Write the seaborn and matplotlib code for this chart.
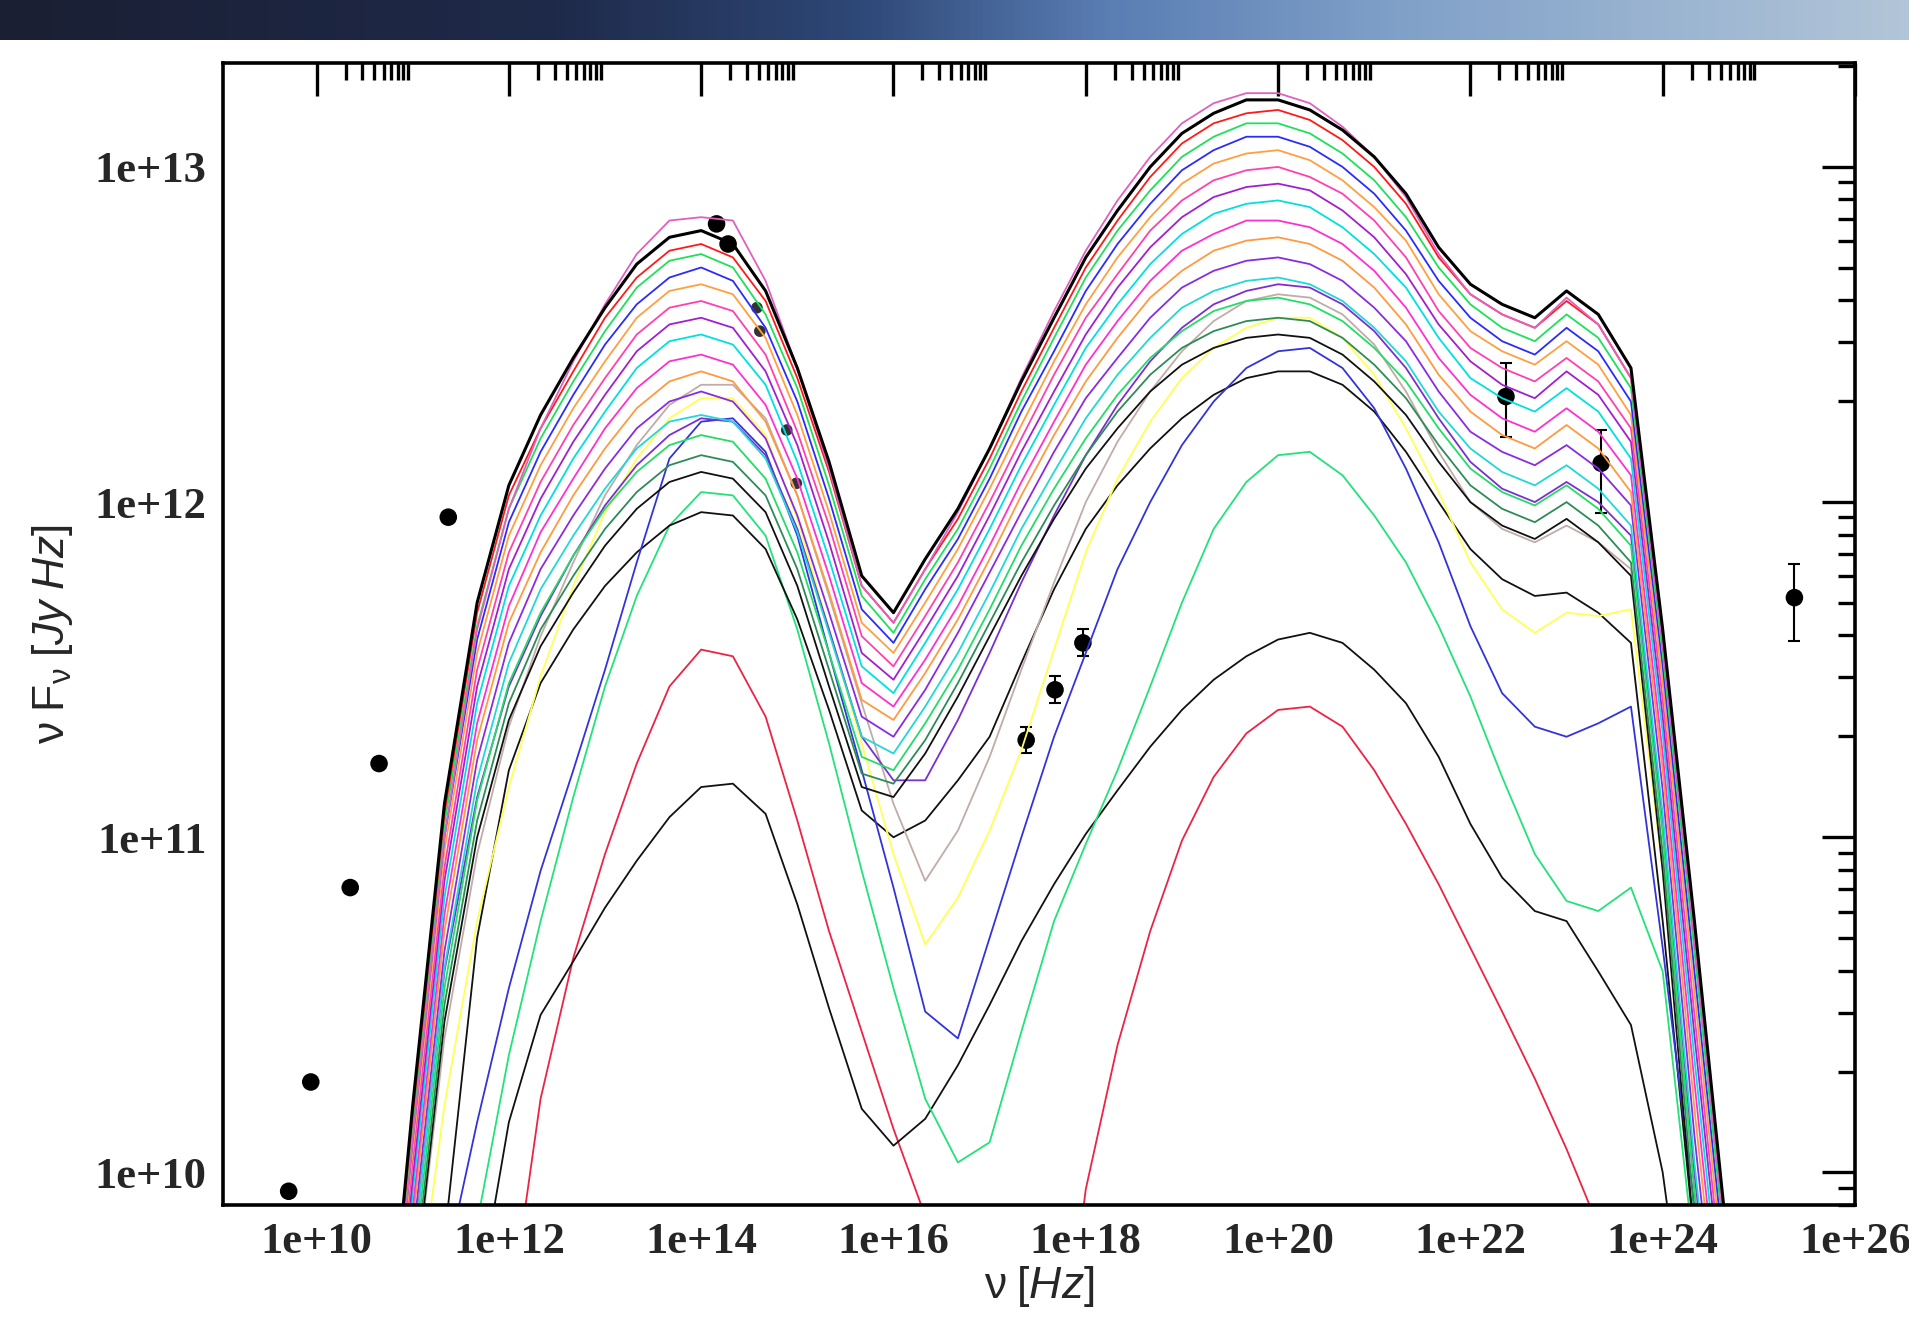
import numpy as np
import pandas as pd
import matplotlib
matplotlib.use("Agg")
import matplotlib.pyplot as plt
import seaborn as sns
from matplotlib.colors import LinearSegmentedColormap
from matplotlib.ticker import FixedLocator, NullFormatter

sns.set_theme(style="white")
plt.rcParams["font.family"] = ["Liberation Serif", "DejaVu Serif"]
plt.rcParams["mathtext.fontset"] = "custom"
plt.rcParams["mathtext.rm"] = "Liberation Sans"
plt.rcParams["mathtext.it"] = "Liberation Sans:italic"

# ---------------------------------------------------------------------------
# DATA  (log10 nu [Hz] grid, log10 nuFnu [Jy Hz] per model curve)
# ---------------------------------------------------------------------------
log_nu = [10.67, 11.0, 11.33, 11.67, 12.0, 12.33, 12.67, 13.0, 13.33, 13.67,
          14.0, 14.33, 14.67, 15.0, 15.33, 15.67, 16.0, 16.33, 16.67, 17.0,
          17.33, 17.67, 18.0, 18.33, 18.67, 19.0, 19.33, 19.67, 20.0, 20.33,
          20.67, 21.0, 21.33, 21.67, 22.0, 22.33, 22.67, 23.0, 23.33, 23.67,
          24.0, 24.33, 24.67]

red_low = [7.5, 7.9, 8.3, 8.75, 9.55, 10.22, 10.64, 10.95, 11.22, 11.45, 11.56, 11.54, 11.36, 11.05, 10.72,
           10.42, 10.13, 9.87, 9.5, 9.0, 8.8, 9.2, 9.95, 10.38, 10.72, 10.99, 11.18, 11.31, 11.38, 11.39,
           11.33, 11.20, 11.04, 10.86, 10.67, 10.48, 10.28, 10.07, 9.84, 9.6, 9.3, 9.0, 8.7]
black_low = [7.5, 7.9, 8.3, 9.6, 10.15, 10.47, 10.63, 10.79, 10.93, 11.06, 11.15, 11.16, 11.07, 10.80, 10.49,
             10.19, 10.08, 10.16, 10.32, 10.50, 10.69, 10.86, 11.01, 11.14, 11.27, 11.38, 11.47, 11.54, 11.59, 11.61,
             11.58, 11.50, 11.40, 11.24, 11.04, 10.88, 10.78, 10.75, 10.60, 10.44, 10.00, 9.30, 8.80]
green_low = [7.8, 8.3, 8.9, 9.85, 10.35, 10.75, 11.12, 11.45, 11.72, 11.93, 12.03, 12.02, 11.90, 11.62, 11.28,
             10.90, 10.55, 10.22, 10.03, 10.09, 10.42, 10.75, 10.98, 11.20, 11.45, 11.70, 11.92, 12.06, 12.14, 12.15,
             12.08, 11.96, 11.82, 11.63, 11.42, 11.18, 10.95, 10.81, 10.78, 10.85, 10.60, 9.75, 9.0]
black_mid = [8.0, 8.9, 9.8, 10.7, 11.2, 11.46, 11.62, 11.75, 11.85, 11.93, 11.97, 11.96, 11.86, 11.65, 11.38,
             11.08, 11.00, 11.05, 11.17, 11.30, 11.52, 11.74, 11.92, 12.05, 12.16, 12.25, 12.32, 12.37, 12.39, 12.39,
             12.35, 12.27, 12.15, 12.00, 11.86, 11.77, 11.72, 11.73, 11.67, 11.58, 10.75, 9.8, 9.0]
blue_deep = [7.5, 8.3, 9.7, 10.15, 10.55, 10.9, 11.2, 11.5, 11.82, 12.13, 12.24, 12.25, 12.15, 11.90, 11.55,
             11.20, 10.85, 10.48, 10.40, 10.70, 11.00, 11.30, 11.55, 11.80, 12.00, 12.17, 12.30, 12.40, 12.45, 12.46,
             12.40, 12.28, 12.10, 11.88, 11.63, 11.43, 11.33, 11.30, 11.34, 11.39, 10.67, 9.90, 9.2]
yellow_deep = [7.8, 9.5, 10.2, 10.75, 11.15, 11.48, 11.75, 11.97, 12.13, 12.25, 12.31, 12.31, 12.20, 11.95, 11.62,
               11.28, 10.95, 10.68, 10.82, 11.02, 11.26, 11.56, 11.85, 12.07, 12.24, 12.37, 12.46, 12.52, 12.55, 12.55,
               12.49, 12.38, 12.22, 12.03, 11.82, 11.68, 11.61, 11.67, 11.66, 11.68, 10.90, 10.0, 9.2]
tan_deep = [7.9, 9.6, 10.4, 10.95, 11.33, 11.60, 11.82, 12.02, 12.17, 12.29, 12.35, 12.35, 12.25, 12.02, 11.72,
            11.40, 11.10, 10.87, 11.02, 11.24, 11.50, 11.76, 12.00, 12.18, 12.33, 12.45, 12.54, 12.60, 12.62, 12.61,
            12.56, 12.47, 12.33, 12.15, 12.00, 11.92, 11.88, 11.93, 11.88, 11.80, 10.95, 9.95, 9.1]
purple_flat = [8.1, 9.75, 10.6, 11.12, 11.45, 11.66, 11.84, 11.99, 12.11, 12.20, 12.25, 12.24, 12.14, 11.92, 11.62,
               11.30, 11.17, 11.17, 11.35, 11.55, 11.76, 11.96, 12.14, 12.29, 12.42, 12.52, 12.59, 12.63, 12.65, 12.64,
               12.59, 12.51, 12.40, 12.25, 12.12, 12.04, 12.00, 12.06, 12.00, 11.90, 11.05, 10.0, 9.1]

bundle_bottom = [8.70, 9.60, 10.45, 11.00, 11.35, 11.57, 11.73, 11.87, 11.98, 12.06, 12.09, 12.07, 11.97, 11.75, 11.45,
                 11.15, 11.12, 11.25, 11.42, 11.60, 11.78, 11.95, 12.10, 12.22, 12.33, 12.41, 12.46, 12.49, 12.50, 12.49,
                 12.44, 12.36, 12.26, 12.12, 12.00, 11.93, 11.89, 11.95, 11.88, 11.78, 10.90, 9.80, 8.90]
bundle_93 = [8.74, 9.64, 10.50, 11.05, 11.40, 11.62, 11.78, 11.92, 12.03, 12.11, 12.14, 12.12, 12.02, 11.80, 11.50,
             11.19, 11.16, 11.29, 11.46, 11.64, 11.82, 11.99, 12.14, 12.27, 12.38, 12.46, 12.51, 12.54, 12.55, 12.54,
             12.49, 12.41, 12.31, 12.17, 12.05, 11.98, 11.94, 12.00, 11.93, 11.82, 10.95, 9.87, 8.96]
bundle_85 = [8.78, 9.69, 10.55, 11.11, 11.46, 11.67, 11.84, 11.98, 12.09, 12.17, 12.20, 12.18, 12.07, 11.85, 11.55,
             11.24, 11.20, 11.34, 11.50, 11.68, 11.87, 12.04, 12.19, 12.32, 12.43, 12.51, 12.57, 12.60, 12.61, 12.59,
             12.54, 12.46, 12.36, 12.22, 12.10, 12.03, 11.99, 12.05, 11.98, 11.87, 11.01, 9.94, 9.04]
bundle_76 = [8.82, 9.74, 10.61, 11.17, 11.52, 11.74, 11.90, 12.04, 12.16, 12.24, 12.26, 12.24, 12.13, 11.91, 11.61,
             11.30, 11.25, 11.39, 11.55, 11.73, 11.92, 12.09, 12.25, 12.38, 12.49, 12.58, 12.63, 12.66, 12.67, 12.65,
             12.60, 12.52, 12.42, 12.27, 12.16, 12.09, 12.05, 12.11, 12.04, 11.93, 11.07, 10.03, 9.12]
bundle_67 = [8.87, 9.80, 10.66, 11.23, 11.58, 11.80, 11.96, 12.10, 12.22, 12.30, 12.33, 12.30, 12.19, 11.96, 11.67,
             11.36, 11.30, 11.44, 11.61, 11.79, 11.97, 12.15, 12.31, 12.43, 12.55, 12.64, 12.69, 12.72, 12.73, 12.71,
             12.66, 12.58, 12.48, 12.33, 12.21, 12.15, 12.11, 12.17, 12.10, 11.99, 11.14, 10.11, 9.20]
bundle_59 = [8.91, 9.85, 10.72, 11.29, 11.64, 11.85, 12.02, 12.16, 12.28, 12.36, 12.39, 12.36, 12.24, 12.02, 11.73,
             11.41, 11.35, 11.49, 11.65, 11.83, 12.02, 12.20, 12.36, 12.49, 12.61, 12.69, 12.75, 12.78, 12.79, 12.77,
             12.72, 12.64, 12.53, 12.38, 12.27, 12.20, 12.16, 12.23, 12.16, 12.03, 11.20, 10.19, 9.27]
bundle_51 = [8.95, 9.89, 10.77, 11.34, 11.69, 11.91, 12.07, 12.22, 12.34, 12.42, 12.44, 12.41, 12.29, 12.07, 11.78,
             11.46, 11.39, 11.53, 11.69, 11.87, 12.06, 12.24, 12.41, 12.54, 12.66, 12.75, 12.80, 12.84, 12.84, 12.82,
             12.77, 12.69, 12.58, 12.43, 12.32, 12.25, 12.21, 12.28, 12.21, 12.08, 11.25, 10.27, 9.34]
bundle_43 = [8.99, 9.94, 10.82, 11.40, 11.75, 11.96, 12.13, 12.27, 12.40, 12.48, 12.50, 12.47, 12.35, 12.12, 11.83,
             11.51, 11.43, 11.58, 11.74, 11.92, 12.11, 12.29, 12.46, 12.59, 12.71, 12.80, 12.86, 12.89, 12.90, 12.88,
             12.82, 12.74, 12.64, 12.49, 12.37, 12.31, 12.27, 12.34, 12.27, 12.13, 11.31, 10.34, 9.41]
bundle_36 = [9.02, 9.98, 10.87, 11.45, 11.80, 12.01, 12.18, 12.32, 12.45, 12.53, 12.55, 12.52, 12.39, 12.17, 11.88,
             11.55, 11.47, 11.62, 11.78, 11.96, 12.15, 12.33, 12.50, 12.64, 12.76, 12.85, 12.91, 12.94, 12.95, 12.93,
             12.87, 12.79, 12.68, 12.53, 12.42, 12.35, 12.31, 12.39, 12.32, 12.18, 11.36, 10.41, 9.48]
bundle_29 = [9.06, 10.03, 10.91, 11.50, 11.85, 12.06, 12.23, 12.37, 12.50, 12.58, 12.60, 12.57, 12.44, 12.21, 11.93,
             11.60, 11.51, 11.66, 11.82, 12.00, 12.19, 12.38, 12.55, 12.68, 12.81, 12.90, 12.96, 12.99, 13.00, 12.97,
             12.92, 12.84, 12.73, 12.57, 12.46, 12.40, 12.36, 12.43, 12.36, 12.22, 11.41, 10.47, 9.54]
bundle_22 = [9.09, 10.07, 10.96, 11.55, 11.90, 12.11, 12.28, 12.42, 12.55, 12.63, 12.65, 12.62, 12.49, 12.26, 11.97,
             11.64, 11.55, 11.70, 11.86, 12.04, 12.23, 12.42, 12.59, 12.73, 12.85, 12.95, 13.01, 13.04, 13.05, 13.02,
             12.96, 12.88, 12.78, 12.62, 12.51, 12.45, 12.41, 12.48, 12.41, 12.26, 11.46, 10.54, 9.60]
bundle_16 = [9.12, 10.10, 11.00, 11.59, 11.94, 12.15, 12.32, 12.47, 12.59, 12.67, 12.70, 12.66, 12.52, 12.30, 12.01,
             11.68, 11.58, 11.74, 11.89, 12.07, 12.27, 12.45, 12.63, 12.77, 12.89, 12.99, 13.05, 13.09, 13.09, 13.06,
             13.00, 12.92, 12.81, 12.66, 12.55, 12.48, 12.44, 12.52, 12.45, 12.30, 11.51, 10.60, 9.66]
bundle_10 = [9.15, 10.14, 11.04, 11.63, 11.98, 12.19, 12.36, 12.51, 12.64, 12.72, 12.74, 12.70, 12.56, 12.34, 12.05,
             11.72, 11.61, 11.77, 11.92, 12.10, 12.30, 12.49, 12.67, 12.81, 12.93, 13.03, 13.09, 13.13, 13.13, 13.10,
             13.04, 12.96, 12.85, 12.70, 12.59, 12.52, 12.48, 12.56, 12.49, 12.34, 11.55, 10.66, 9.71]
bundle_05 = [9.18, 10.17, 11.07, 11.67, 12.02, 12.22, 12.39, 12.55, 12.67, 12.75, 12.77, 12.73, 12.60, 12.37, 12.09,
             11.75, 11.64, 11.80, 11.95, 12.13, 12.33, 12.52, 12.70, 12.84, 12.97, 13.07, 13.13, 13.16, 13.17, 13.14,
             13.08, 13.00, 12.89, 12.73, 12.62, 12.56, 12.52, 12.60, 12.53, 12.37, 11.58, 10.70, 9.76]
pink_top = [9.10, 10.10, 11.00, 11.62, 11.98, 12.22, 12.42, 12.59, 12.74, 12.84, 12.85, 12.84, 12.66, 12.40, 12.10,
            11.75, 11.64, 11.80, 11.97, 12.16, 12.37, 12.57, 12.75, 12.90, 13.03, 13.13, 13.19, 13.22, 13.22, 13.19,
            13.12, 13.03, 12.91, 12.74, 12.62, 12.56, 12.52, 12.61, 12.53, 12.37, 11.58, 10.70, 9.75]
top_black = [9.20, 10.20, 11.10, 11.70, 12.05, 12.26, 12.43, 12.58, 12.71, 12.79, 12.81, 12.77, 12.63, 12.40, 12.12,
             11.78, 11.67, 11.83, 11.98, 12.16, 12.36, 12.55, 12.73, 12.87, 13.00, 13.10, 13.16, 13.20, 13.20, 13.17,
             13.11, 13.03, 12.92, 12.76, 12.65, 12.59, 12.55, 12.63, 12.56, 12.40, 11.62, 10.75, 9.80]

# observed points (log nu, log nuFnu, err down, err up in dex)
radio_nu = [9.71, 9.94, 10.35, 10.65, 11.37]
radio_flux = [9.944, 10.27, 10.85, 11.22, 11.955]
optical_nu = [14.16, 14.28]
optical_flux = [12.83, 12.77]
uv_nu = [14.58, 14.61, 14.89, 14.99]
uv_flux = [12.58, 12.51, 12.215, 12.056]
xray_nu = [17.38, 17.68, 17.97]
xray_flux = [11.29, 11.44, 11.58]
xray_err = [0.04, 0.04, 0.04]
gamma_nu = [22.37, 23.36, 25.37]
gamma_flux = [12.315, 12.116, 11.715]
gamma_err_lo = [0.12, 0.15, 0.13]
gamma_err_hi = [0.10, 0.10, 0.10]

x_major = [1e10, 1e12, 1e14, 1e16, 1e18, 1e20, 1e22, 1e24, 1e26]
x_labels = ["1e+10", "1e+12", "1e+14", "1e+16", "1e+18", "1e+20", "1e+22", "1e+24", "1e+26"]
y_major = [1e10, 1e11, 1e12, 1e13]
y_labels = ["1e+10", "1e+11", "1e+12", "1e+13"]

# draw order: lowest curves first, top envelope last
curves = [
    ("red_low", red_low, "#ee2244", 1.3),
    ("black_low", black_low, "#111111", 1.3),
    ("green_low", green_low, "#22e27a", 1.3),
    ("black_mid", black_mid, "#111111", 1.3),
    ("blue_deep", blue_deep, "#3333dd", 1.3),
    ("yellow_deep", yellow_deep, "#ffff55", 1.3),
    ("tan_deep", tan_deep, "#c0aca8", 1.3),
    ("purple_flat", purple_flat, "#7b2fd0", 1.3),
    ("bundle_bottom", bundle_bottom, "#111111", 1.3),
    ("bundle_93", bundle_93, "#2e8b57", 1.3),
    ("bundle_85", bundle_85, "#22dd66", 1.3),
    ("bundle_76", bundle_76, "#20d8d8", 1.3),
    ("bundle_67", bundle_67, "#8a2be2", 1.3),
    ("bundle_59", bundle_59, "#ff9a40", 1.3),
    ("bundle_51", bundle_51, "#ff30d0", 1.3),
    ("bundle_43", bundle_43, "#00e0e0", 1.3),
    ("bundle_36", bundle_36, "#a020d0", 1.3),
    ("bundle_29", bundle_29, "#ff40b0", 1.3),
    ("bundle_22", bundle_22, "#ffa040", 1.3),
    ("bundle_16", bundle_16, "#2b2bff", 1.3),
    ("bundle_10", bundle_10, "#1ee05a", 1.3),
    ("bundle_05", bundle_05, "#ff1a1a", 1.3),
    ("pink_top", pink_top, "#e060c0", 1.3),
    ("top_black", top_black, "#000000", 2.2),
]

for name, vals, _, _ in curves:
    assert len(vals) == len(log_nu), name

nu = 10.0 ** np.array(log_nu)
df = pd.concat(
    [pd.DataFrame({"nu": nu, "flux": 10.0 ** np.array(v), "model": n}) for n, v, _, _ in curves],
    ignore_index=True,
)

# ---------------------------------------------------------------------------
# FIGURE
# ---------------------------------------------------------------------------
W, H = 1909, 1320
fig = plt.figure(figsize=(W / 100, H / 100), dpi=100)
fig.patch.set_facecolor("white")

# slide banner gradient
bax = fig.add_axes([0, 1 - 40 / H, 1, 40 / H])
banner = LinearSegmentedColormap.from_list(
    "banner",
    [(0.0, "#1a1f33"), (0.29, "#1f2a4a"), (0.45, "#2e4877"),
     (0.58, "#5a7db3"), (0.73, "#7fa0c8"), (1.0, "#b2c5d8")],
)
bax.imshow(np.linspace(0, 1, 600)[None, :], aspect="auto", cmap=banner)
bax.set_axis_off()

ax = fig.add_axes([223 / W, (H - 1205) / H, (1855 - 223) / W, (1205 - 63) / H])
ax.set_xscale("log")
ax.set_yscale("log")

# observed data underneath the model curves
sns.scatterplot(x=10.0 ** np.array(radio_nu), y=10.0 ** np.array(radio_flux), ax=ax,
                color="black", s=160, edgecolor="none", zorder=1)
sns.scatterplot(x=10.0 ** np.array(optical_nu), y=10.0 ** np.array(optical_flux), ax=ax,
                color="black", s=160, edgecolor="none", zorder=1)
sns.scatterplot(x=10.0 ** np.array(uv_nu), y=10.0 ** np.array(uv_flux), ax=ax,
                color="#333333", s=70, edgecolor="none", zorder=1)
for xs, ys, lo, hi in [(xray_nu, xray_flux, xray_err, xray_err),
                       (gamma_nu, gamma_flux, gamma_err_lo, gamma_err_hi)]:
    xv = 10.0 ** np.array(xs)
    yv = 10.0 ** np.array(ys)
    err = [yv - 10.0 ** (np.array(ys) - np.array(lo)), 10.0 ** (np.array(ys) + np.array(hi)) - yv]
    ax.errorbar(xv, yv, yerr=err, fmt="none", ecolor="black", elinewidth=1.5,
                capsize=4, capthick=1.5, zorder=1)
    sns.scatterplot(x=xv, y=yv, ax=ax, color="black", s=160, edgecolor="none", zorder=1)

for name, _, color, lw in curves:
    sns.lineplot(data=df[df["model"] == name], x="nu", y="flux", ax=ax, color=color,
                 lw=lw, sort=False, estimator=None, legend=False, zorder=2)

ax.set_xlim(10 ** 9.027, 1e26)
ax.set_ylim(10 ** 9.903, 10 ** 13.31)

ax.xaxis.set_major_locator(FixedLocator(x_major))
ax.xaxis.set_minor_locator(FixedLocator([k * 10.0 ** n for n in range(10, 26, 2) for k in range(2, 10)]))
ax.xaxis.set_minor_formatter(NullFormatter())
ax.set_xticklabels(x_labels)
ax.yaxis.set_major_locator(FixedLocator(y_major))
ax.yaxis.set_minor_locator(FixedLocator([k * 10.0 ** n for n in range(9, 14) for k in range(2, 10)]))
ax.yaxis.set_minor_formatter(NullFormatter())
ax.set_yticklabels(y_labels)

ax.tick_params(which="both", direction="in", top=True, right=True, color="black", width=2.4)
ax.tick_params(which="major", length=24, labelsize=32, pad=12)
ax.tick_params(which="minor", length=12)
for lab in ax.get_xticklabels() + ax.get_yticklabels():
    lab.set_fontweight("bold")
    lab.set_family(["Liberation Serif", "DejaVu Serif"])
for sp in ax.spines.values():
    sp.set_linewidth(2.6)
    sp.set_color("black")
ax.grid(False)
ax.set_facecolor("white")

ax.set_xlabel(r"$\mathrm{\nu}\;\mathit{[Hz]}$", fontsize=32, labelpad=2)
ax.set_ylabel(r"$\mathrm{\nu\;F_{\nu}}\;\mathit{[Jy\;Hz]}$", fontsize=32, labelpad=14)

fig.savefig("out.png", dpi=100)
